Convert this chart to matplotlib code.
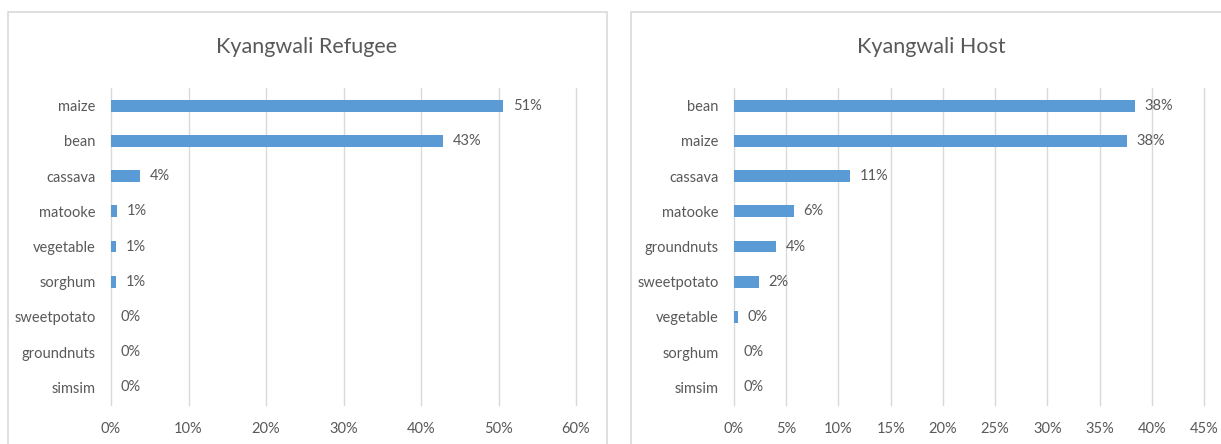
import matplotlib
matplotlib.use('Agg')
import matplotlib.pyplot as plt
from matplotlib.patches import Rectangle
from matplotlib.ticker import MultipleLocator, FuncFormatter

# Main crops grown, share of households
refugee_crops = ['maize', 'bean', 'cassava', 'matooke', 'vegetable',
                 'sorghum', 'sweetpotato', 'groundnuts', 'simsim']
refugee_share = [0.506, 0.429, 0.038, 0.008, 0.007, 0.006, 0.0, 0.0, 0.0]

host_crops = ['bean', 'maize', 'cassava', 'matooke', 'groundnuts',
              'sweetpotato', 'vegetable', 'sorghum', 'simsim']
host_share = [0.384, 0.376, 0.111, 0.057, 0.040, 0.024, 0.004, 0.0, 0.0]

BAR = '#5B9BD5'
TEXT = '#595959'
GRID = '#D9D9D9'

plt.rcParams['font.family'] = ['Lato', 'DejaVu Sans']


def draw_panel(ax, crops, share, xmax, step):
    ypos = list(range(len(crops)))
    ax.barh(ypos, share, height=0.34, color=BAR, zorder=3)
    for y, v in zip(ypos, share):
        ax.annotate(f'{v:.0%}', (v, y), xytext=(7, 0), textcoords='offset points',
                    va='center', ha='left', fontsize=10.5, color=TEXT)
    ax.set_ylim(len(crops) - 0.5, -0.5)
    ax.set_xlim(0, xmax)
    ax.set_yticks(ypos)
    ax.set_yticklabels(crops)
    ax.xaxis.set_major_locator(MultipleLocator(step))
    ax.xaxis.set_major_formatter(FuncFormatter(lambda x, _: f'{x:.0%}'))
    ax.tick_params(length=0, labelsize=10.5, labelcolor=TEXT)
    ax.tick_params(axis='y', pad=11)
    ax.tick_params(axis='x', pad=12)
    for s in ax.spines.values():
        s.set_visible(False)
    ax.grid(axis='x', color=GRID, linewidth=1.0, zorder=0)
    for gl in ax.get_xgridlines():
        gl.set_clip_on(False)


fig = plt.figure(figsize=(12.21, 4.44), dpi=100)

# chart frames
fig.patches.append(Rectangle((8 / 1221, -0.1), 599 / 1221, 1.1 - 12 / 444,
                             transform=fig.transFigure, fill=False,
                             edgecolor=GRID, linewidth=1.2))
fig.patches.append(Rectangle((631 / 1221, -0.1), 0.6, 1.1 - 12 / 444,
                             transform=fig.transFigure, fill=False,
                             edgecolor=GRID, linewidth=1.2))

ax1 = fig.add_axes([111 / 1221, 1 - 405 / 444, 465 / 1221, 317 / 444])
ax2 = fig.add_axes([734 / 1221, 1 - 405 / 444, 470 / 1221, 317 / 444])

draw_panel(ax1, refugee_crops, refugee_share, 0.60, 0.10)
draw_panel(ax2, host_crops, host_share, 0.45, 0.05)

# titles are centred on each chart frame
fig.text(307 / 1221, 1 - 47 / 444, 'Kyangwali Refugee', fontsize=15.5,
         color=TEXT, ha='center', va='center')
fig.text(931 / 1221, 1 - 47 / 444, 'Kyangwali Host', fontsize=15.5,
         color=TEXT, ha='center', va='center')

fig.savefig('out.png', dpi=100)
